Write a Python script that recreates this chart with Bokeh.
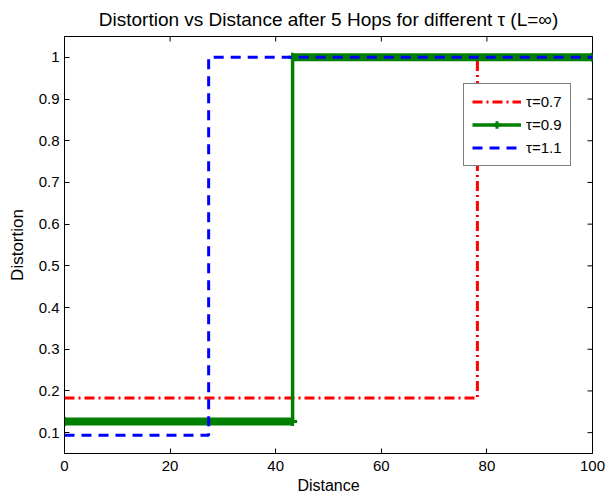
import math
from bokeh.plotting import figure
from bokeh.models import Range1d, Legend, LegendItem, FixedTicker
from bokeh.embed import file_html
from bokeh.resources import INLINE

# ---- data ----
tau_labels = ["τ=0.7", "τ=0.9", "τ=1.1"]
low_distortion = [0.183, 0.127, 0.094]
high_distortion = [1.0, 1.0, 1.0]
switch_distance = [78.2, 43.2, 27.3]
distance_start = 0
distance_end = 100
x_ticks = [0, 20, 40, 60, 80, 100]
y_ticks = [0.1, 0.2, 0.3, 0.4, 0.5, 0.6, 0.7, 0.8, 0.9, 1.0]
y_min, y_max = 0.05, 1.05

FONT = "Liberation Sans"

p = figure(width=605, height=498, output_backend="svg", toolbar_location=None,
           x_range=Range1d(distance_start, distance_end), y_range=Range1d(y_min, y_max),
           min_border_left=64, min_border_right=13, min_border_top=36, min_border_bottom=45)
p.title.text = "Distortion vs Distance after 5 Hops for different τ (L=∞)"
p.title.align = "center"
p.title.text_font = FONT
p.title.text_font_style = "normal"
p.title.text_font_size = "19px"
p.title.text_color = "black"
p.title.standoff = 13
p.grid.visible = False
p.outline_line_color = "black"
p.outline_line_width = 1
p.background_fill_color = "white"
p.border_fill_color = "white"

for ax in (p.xaxis[0], p.yaxis[0]):
    ax.major_tick_in = 5
    ax.major_tick_out = 0
    ax.minor_tick_in = 0
    ax.minor_tick_out = 0
    ax.major_label_text_font = FONT
    ax.major_label_text_font_size = "15px"
    ax.major_label_text_color = "black"
    ax.axis_label_text_font = FONT
    ax.axis_label_text_font_size = "16px"
    ax.axis_label_text_font_style = "normal"
    ax.axis_label_text_color = "black"
    ax.axis_line_color = "black"
    ax.major_tick_line_color = "black"
p.xaxis[0].ticker = FixedTicker(ticks=x_ticks)
p.yaxis[0].ticker = FixedTicker(ticks=y_ticks)
p.xaxis[0].major_label_overrides = {t: str(t) for t in x_ticks}
p.yaxis[0].major_label_overrides = {t: ("1" if t == 1.0 else f"{t:.1f}") for t in y_ticks}
p.xaxis[0].axis_label = "Distance"
p.yaxis[0].axis_label = "Distortion"
p.yaxis[0].axis_label_text_font_size = "17px"
p.xaxis[0].major_label_standoff = 7
p.yaxis[0].major_label_standoff = 5
p.xaxis[0].axis_label_standoff = 3
p.yaxis[0].axis_label_standoff = 9

# inward ticks on the right and top edges (box style)
p.ray(x=[distance_end] * len(y_ticks), y=y_ticks, length=5, length_units="screen",
      angle=math.pi, color="black", line_width=1)
p.ray(x=x_ticks, y=[y_max] * len(x_ticks), length=5, length_units="screen",
      angle=-math.pi / 2, color="black", line_width=1)

colors = ["red", "green", "blue"]
dashes = ["10 4 2 4", "solid", "10 7"]
items = []
for i in range(3):
    sw = switch_distance[i]
    xs = [distance_start, sw, sw, distance_end]
    ys = [low_distortion[i], low_distortion[i], high_distortion[i], high_distortion[i]]
    if i == 1:
        # dense markers make the horizontal parts look thick
        p.line([distance_start, sw], [low_distortion[i]] * 2, color="green", line_width=8)
        p.line([sw, distance_end], [high_distortion[i]] * 2, color="green", line_width=8)
        r = p.line(xs, ys, color="green", line_width=3.5)
        m = p.scatter(xs, ys, marker="cross", size=9, line_width=3, color="green")
        items.append(LegendItem(label=tau_labels[i], renderers=[r, m]))
    else:
        r = p.line(xs, ys, color=colors[i], line_width=3, line_dash=dashes[i])
        items.append(LegendItem(label=tau_labels[i], renderers=[r]))

legend = Legend(items=items, location=(399, 287))
legend.label_text_font = FONT
legend.label_text_font_size = "15px"
legend.label_text_color = "black"
legend.border_line_color = "black"
legend.border_line_width = 1
legend.glyph_width = 49
legend.glyph_height = 19
legend.label_height = 19
legend.spacing = 4
legend.padding = 8
legend.margin = 0
legend.label_standoff = 5
legend.background_fill_color = "white"
legend.background_fill_alpha = 1
p.add_layout(legend, "center")

open("out.html", "w").write(file_html(p, INLINE))
